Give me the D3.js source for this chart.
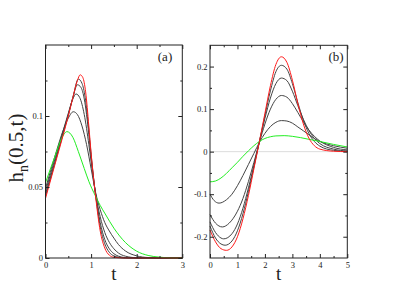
<!DOCTYPE html>
<html>
<head>
<meta charset="utf-8">
<script src="https://cdn.jsdelivr.net/npm/d3@7"></script>
<style>
  body { margin: 0; background: #fff; }
  svg text { font-family: "Liberation Serif", "Times New Roman", serif; fill: #222; }
</style>
</head>
<body>
<div id="chart"></div>
<script>
// panel (a) : t in [0,3]
const aXTicks = [0, 1, 2, 3];
const aXMinor = [0.5, 1.5, 2.5];
const aYTicks = [0, 0.05, 0.1];
const aYLabels = ["0", "0.05", "0.1"];
const aYMinor = [0.025, 0.075, 0.125];

const aGreen = [[0,0.053],[0.2,0.071],[0.35,0.084],[0.47,0.089],[0.6,0.085],[0.72,0.075],[0.85,0.063],[0.95,0.054],[1.09,0.044],[1.2,0.037],[1.31,0.031],[1.5,0.021],[1.75,0.011],[2,0.0048],[2.25,0.0018],[2.5,0.0006],[2.75,0.0001],[3,0]];
const aGray4 = [[0,0.049],[0.2,0.071],[0.4,0.091],[0.5,0.0985],[0.61,0.103],[0.7,0.101],[0.8,0.093],[0.9,0.08],[1.0,0.063],[1.1,0.046],[1.2,0.034],[1.3,0.025],[1.4,0.019],[1.5,0.014],[1.6,0.0095],[1.75,0.005],[2,0.0015],[2.25,0.0003],[2.5,0],[3,0]];
const aGray3 = [[0,0.047],[0.2,0.069],[0.4,0.091],[0.5,0.102],[0.6,0.112],[0.67,0.1155],[0.75,0.113],[0.85,0.101],[0.95,0.08],[1.0,0.068],[1.1,0.045],[1.2,0.029],[1.3,0.018],[1.4,0.011],[1.5,0.0065],[1.6,0.0035],[1.75,0.0013],[2,0.0002],[2.5,0],[3,0]];
const aGray2 = [[0,0.045],[0.2,0.067],[0.4,0.09],[0.5,0.101],[0.6,0.113],[0.7,0.122],[0.78,0.12],[0.85,0.112],[0.95,0.087],[1.0,0.071],[1.1,0.0445],[1.2,0.025],[1.3,0.013],[1.4,0.0065],[1.5,0.003],[1.6,0.0013],[1.75,0.0003],[2,0],[3,0]];
const aGray1 = [[0,0.0435],[0.2,0.066],[0.4,0.089],[0.5,0.1005],[0.6,0.113],[0.72,0.126],[0.8,0.123],[0.87,0.113],[0.95,0.09],[1.0,0.073],[1.1,0.044],[1.2,0.022],[1.3,0.01],[1.4,0.004],[1.5,0.0015],[1.75,0],[3,0]];
const aRed = [[0,0.042],[0.2,0.065],[0.4,0.088],[0.5,0.1],[0.6,0.113],[0.7,0.125],[0.76,0.129],[0.82,0.127],[0.88,0.117],[0.95,0.093],[1.0,0.074],[1.1,0.043],[1.2,0.019],[1.3,0.007],[1.4,0.002],[1.5,0.0005],[1.75,0],[3,0]];

// panel (b) : t in [0,5]
const bXTicks = [0, 1, 2, 3, 4, 5];
const bXMinor = [0.5, 1.5, 2.5, 3.5, 4.5];
const bYTicks = [-0.2, -0.1, 0, 0.1, 0.2];
const bYLabels = ["-0.2", "-0.1", "0", "0.1", "0.2"];
const bYMinor = [-0.15, -0.05, 0.05, 0.15];

const bGreen = [[0,-0.071],[0.2,-0.069],[0.4,-0.062],[0.6,-0.051],[0.8,-0.038],[1.0,-0.025],[1.2,-0.011],[1.4,0.002],[1.6,0.014],[1.8,0.024],[2.0,0.031],[2.2,0.035],[2.4,0.037],[2.7,0.0376],[3.0,0.036],[3.3,0.033],[3.6,0.029],[4.0,0.024],[4.5,0.017],[5,0.011]];
const bGray4 = [[0,-0.1],[0.15,-0.115],[0.33,-0.121],[0.6,-0.113],[0.8,-0.1],[1.0,-0.08],[1.2,-0.056],[1.4,-0.03],[1.6,-0.004],[1.8,0.022],[2.0,0.043],[2.2,0.059],[2.4,0.069],[2.6,0.073],[2.8,0.072],[3.0,0.067],[3.2,0.058],[3.4,0.049],[3.6,0.04],[3.8,0.031],[4.0,0.024],[4.5,0.014],[5,0.008]];
const bGray3 = [[0,-0.148],[0.2,-0.168],[0.45,-0.177],[0.7,-0.168],[1.0,-0.14],[1.2,-0.11],[1.4,-0.07],[1.6,-0.025],[1.8,0.022],[2.0,0.065],[2.2,0.1],[2.4,0.123],[2.6,0.132],[2.8,0.128],[3.0,0.113],[3.2,0.092],[3.4,0.07],[3.6,0.051],[3.8,0.036],[4.0,0.025],[4.5,0.01],[5,0.004]];
const bGray2 = [[0,-0.165],[0.2,-0.19],[0.4,-0.203],[0.5,-0.205],[0.8,-0.193],[1.0,-0.17],[1.2,-0.133],[1.4,-0.085],[1.6,-0.032],[1.8,0.024],[2.0,0.078],[2.2,0.126],[2.4,0.16],[2.6,0.173],[2.8,0.167],[3.0,0.142],[3.2,0.108],[3.4,0.076],[3.6,0.05],[3.8,0.031],[4.0,0.019],[4.5,0.006],[5,0.0015]];
const bGray1 = [[0,-0.175],[0.2,-0.203],[0.4,-0.217],[0.55,-0.22],[0.8,-0.21],[1.0,-0.186],[1.2,-0.146],[1.4,-0.094],[1.6,-0.036],[1.8,0.024],[2.0,0.085],[2.2,0.143],[2.4,0.188],[2.6,0.203],[2.8,0.194],[3.0,0.16],[3.2,0.115],[3.4,0.074],[3.6,0.043],[3.8,0.024],[4.0,0.013],[4.5,0.003],[5,0.0005]];
const bRed = [[0,-0.184],[0.2,-0.212],[0.4,-0.228],[0.6,-0.232],[0.8,-0.224],[1.0,-0.2],[1.2,-0.158],[1.4,-0.103],[1.6,-0.04],[1.8,0.024],[2.0,0.09],[2.2,0.155],[2.4,0.205],[2.6,0.223],[2.8,0.21],[3.0,0.168],[3.2,0.113],[3.4,0.065],[3.6,0.032],[3.8,0.014],[4.0,0.006],[4.5,0.001],[5,0]];

const svgWidth = 393;
const svgHeight = 304;
const GRAY = "#444";

const svg = d3.select("#chart")
  .append("svg")
  .attr("width", svgWidth)
  .attr("height", svgHeight);

const panels = [
  {
    x0: 45.5, x1: 182.3, y0: 258, y1: 45, xDomain: [0, 3], yDomain: [0, 0.15],
    xTicks: aXTicks, xMinor: aXMinor, yTicks: aYTicks, yLabels: aYLabels, yMinor: aYMinor,
    tag: "(a)", tagX: 165, zeroLine: false,
    series: [[aGray4, GRAY], [aGray3, GRAY], [aGray2, GRAY], [aGray1, GRAY], [aGreen, "#22ee22"], [aRed, "#ff1a1a"]]
  },
  {
    x0: 210, x1: 347.3, y0: 258, y1: 45.3, xDomain: [0, 5], yDomain: [-0.25, 0.25],
    xTicks: bXTicks, xMinor: bXMinor, yTicks: bYTicks, yLabels: bYLabels, yMinor: bYMinor,
    tag: "(b)", tagX: 336, zeroLine: true,
    series: [[bGray4, GRAY], [bGray3, GRAY], [bGray2, GRAY], [bGray1, GRAY], [bGreen, "#22ee22"], [bRed, "#ff1a1a"]]
  }
];

panels.forEach(p => {
  const xScale = d3.scaleLinear().domain(p.xDomain).range([p.x0, p.x1]);
  const yScale = d3.scaleLinear().domain(p.yDomain).range([p.y0, p.y1]);

  if (p.zeroLine) {
    svg.append("line")
      .attr("x1", p.x0).attr("x2", p.x1)
      .attr("y1", yScale(0)).attr("y2", yScale(0))
      .attr("stroke", "#ddd")
      .attr("stroke-width", 1);
  }

  const line = d3.line()
    .x(d => xScale(d[0]))
    .y(d => yScale(d[1]))
    .curve(d3.curveMonotoneX);

  p.series.forEach(([data, color]) => {
    svg.append("path")
      .datum(data)
      .attr("d", line)
      .attr("fill", "none")
      .attr("stroke", color)
      .attr("stroke-width", 1);
  });

  // bottom / left axes with labels, ticks inside
  const xAxis = d3.axisBottom(xScale).tickValues(p.xTicks).tickSize(-4).tickPadding(3.5).tickFormat(d3.format("d"));
  const yAxis = d3.axisLeft(yScale).tickValues(p.yTicks).tickSize(-4).tickPadding(2.5)
    .tickFormat((d, i) => p.yLabels[i]);

  const gx = svg.append("g").attr("transform", `translate(0,${p.y0})`).call(xAxis);
  const gy = svg.append("g").attr("transform", `translate(${p.x0},0)`).call(yAxis);
  [gx, gy].forEach(g => {
    g.attr("font-family", null);
    g.select(".domain").remove();
    g.selectAll("text").attr("font-size", 8.5).attr("fill", "#222");
  });

  // minor ticks and mirrored ticks on top/right
  const tickOnly = (axis, vals, size, transform) => {
    const g = svg.append("g").attr("transform", transform)
      .call(axis.tickValues(vals).tickSize(size).tickFormat(""));
    g.select(".domain").remove();
  };
  tickOnly(d3.axisBottom(xScale), p.xMinor, -2, `translate(0,${p.y0})`);
  tickOnly(d3.axisTop(xScale), p.xTicks, -4, `translate(0,${p.y1})`);
  tickOnly(d3.axisTop(xScale), p.xMinor, -2, `translate(0,${p.y1})`);
  tickOnly(d3.axisLeft(yScale), p.yMinor, -2, `translate(${p.x0},0)`);
  tickOnly(d3.axisRight(yScale), p.yTicks, -4, `translate(${p.x1},0)`);
  tickOnly(d3.axisRight(yScale), p.yMinor, -2, `translate(${p.x1},0)`);

  svg.append("rect")
    .attr("x", p.x0).attr("y", p.y1)
    .attr("width", p.x1 - p.x0).attr("height", p.y0 - p.y1)
    .attr("fill", "none")
    .attr("stroke", "#222")
    .attr("stroke-width", 1);

  svg.append("text")
    .attr("x", p.tagX).attr("y", 61)
    .attr("text-anchor", "middle")
    .attr("font-size", 13)
    .text(p.tag);

  svg.append("text")
    .attr("x", (p.x0 + p.x1) / 2).attr("y", 280)
    .attr("text-anchor", "middle")
    .attr("font-size", 19)
    .text("t");
});

svg.selectAll(".tick line").attr("stroke", "#222");

// y label h_n(0.5,t)
const ylab = svg.append("text")
  .attr("transform", "translate(23,148) rotate(-90)")
  .attr("text-anchor", "middle")
  .attr("font-size", 21);
ylab.append("tspan").text("h");
ylab.append("tspan").attr("font-size", 14).attr("dy", 5).text("n");
ylab.append("tspan").attr("dy", -5).text("(0.5,t)");
</script>
</body>
</html>
